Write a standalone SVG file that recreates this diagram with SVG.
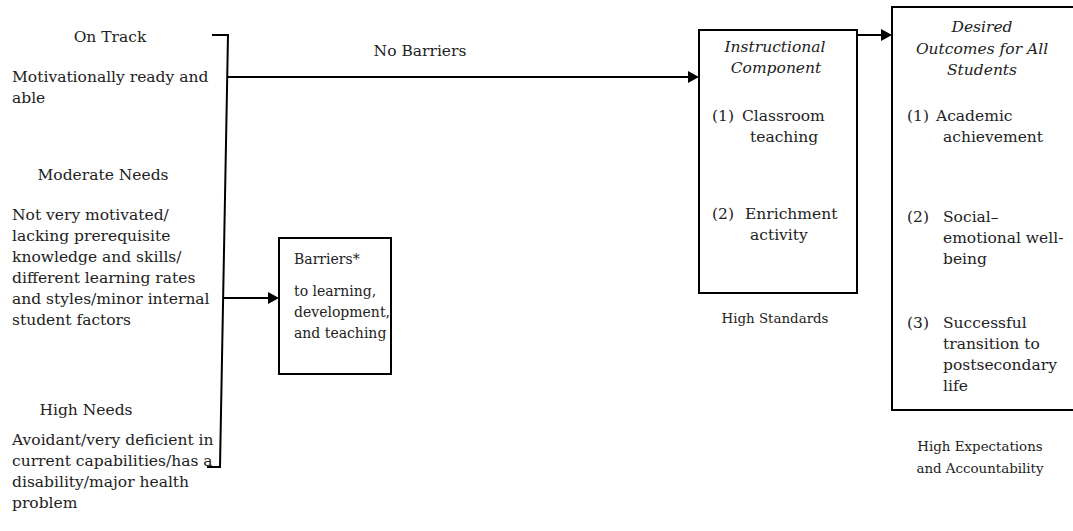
<svg xmlns="http://www.w3.org/2000/svg" width="1073" height="531" viewBox="0 0 1073 531">
<defs>
<style>
text{font-family:"DejaVu Serif","Liberation Serif",serif;font-size:15.5px;fill:#222}
.it{font-style:italic}
.c{text-anchor:middle}
.sm{font-size:13.4px}
.bt{font-size:14px}
.box{fill:#fff;stroke:#000;stroke-width:2}
.ln{fill:none;stroke:#000;stroke-width:2}
</style>
</defs>
<rect width="1073" height="531" fill="#fff"/>
<g id="connectors">
<path class="ln" d="M212,35 H228 L220,467 H207"/>
<line class="ln" x1="228" y1="77" x2="690" y2="77"/>
<line class="ln" x1="223" y1="298" x2="270" y2="298"/>
<line class="ln" x1="857" y1="35" x2="882" y2="35"/>
<path d="M688,71 L699,77 L688,83 z" fill="#000"/>
<path d="M268,292 L279,298 L268,304 z" fill="#000"/>
<path d="M881,29 L892,35 L881,41 z" fill="#000"/>
<text class="c" x="420" y="56">No Barriers</text>
</g>
<g id="on-track">
<text class="c" x="110" y="42">On Track</text>
<text x="12" y="82">Motivationally ready and</text>
<text x="12" y="103">able</text>
</g>
<g id="moderate-needs">
<text class="c" x="103" y="180">Moderate Needs</text>
<text x="12" y="220">Not very motivated/</text>
<text x="12" y="241">lacking prerequisite</text>
<text x="12" y="262">knowledge and skills/</text>
<text x="12" y="283">different learning rates</text>
<text x="12" y="304">and styles/minor internal</text>
<text x="12" y="325">student factors</text>
</g>
<g id="high-needs">
<text class="c" x="86" y="415">High Needs</text>
<text x="12" y="445">Avoidant/very deficient in</text>
<text x="12" y="466">current capabilities/has a</text>
<text x="12" y="487">disability/major health</text>
<text x="12" y="508">problem</text>
</g>
<g id="barriers">
<rect class="box" x="279" y="238" width="112" height="136"/>
<text class="bt" x="294" y="264">Barriers*</text>
<text class="bt" x="294" y="296">to learning,</text>
<text class="bt" x="294" y="317">development,</text>
<text class="bt" x="294" y="338">and teaching</text>
</g>
<g id="instructional">
<rect class="box" x="699" y="30" width="158" height="263"/>
<text class="c it" x="775" y="52">Instructional</text>
<text class="c it" x="776" y="73">Component</text>
<text x="712" y="121">(1)</text>
<text x="742" y="121">Classroom</text>
<text x="750" y="142">teaching</text>
<text x="712" y="219">(2)</text>
<text x="745" y="219">Enrichment</text>
<text x="750" y="240">activity</text>
<text class="c sm" x="775" y="323">High Standards</text>
</g>
<g id="outcomes">
<rect class="box" x="892" y="7" width="190" height="403"/>
<text class="c it" x="982" y="32">Desired</text>
<text class="c it" x="982" y="54">Outcomes for All</text>
<text class="c it" x="982" y="75">Students</text>
<text x="907" y="121">(1)</text>
<text x="936" y="121">Academic</text>
<text x="943" y="142">achievement</text>
<text x="907" y="222">(2)</text>
<text x="943" y="222">Social–</text>
<text x="943" y="243">emotional well-</text>
<text x="943" y="264">being</text>
<text x="907" y="328">(3)</text>
<text x="943" y="328">Successful</text>
<text x="943" y="349">transition to</text>
<text x="943" y="370">postsecondary</text>
<text x="943" y="391">life</text>
<text class="c sm" x="980" y="451">High Expectations</text>
<text class="c sm" x="980" y="473">and Accountability</text>
</g>
</svg>
